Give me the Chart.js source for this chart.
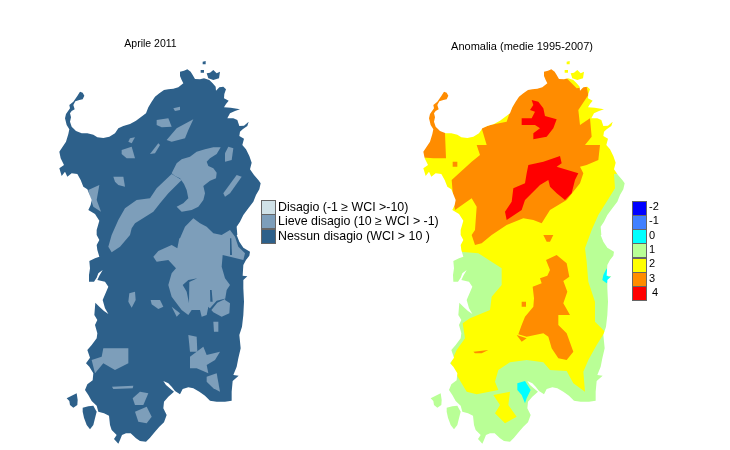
<!DOCTYPE html>
<html>
<head>
<meta charset="utf-8">
<script src="https://cdn.jsdelivr.net/npm/chart.js@4/dist/chart.umd.js"></script>
<style>
  html, body { margin: 0; background: #fff; }
  #wrap { position: relative; width: 730px; height: 450px; overflow: hidden; font-family: "Liberation Sans", Arial, sans-serif; color: #000; }
  canvas { position: absolute; left: 0; top: 0; }
  .t { position: absolute; white-space: nowrap; }
  .sw { position: absolute; box-sizing: border-box; border: 1px solid #666; }
</style>
</head>
<body>
<div id="wrap"><canvas id="map" width="730" height="450"></canvas></div>
<script>
// Outlines are in map grid units (a third of a pixel). South sheets start 615 units lower.
const titles = ["Aprile 2011", "Anomalia (medie 1995-2007)"];
const wciLabels = ["Disagio (-1 ≥ WCI >-10)", "Lieve disagio (10 ≥ WCI > -1)", "Nessun disagio (WCI > 10 )"];
const wciColors = ["#d0e2e8", "#7d9eba", "#2d608a"];
const anomalyLabels = ["-2", "-1", "0", "1", "2", "3", "4"];
const anomalyColors = ["#0000ff", "#4080ff", "#00ffff", "#b9ff96", "#ffff00", "#ff8c00", "#ff0000"];

const coastNorth = [[120,185],[128,188],[133,197],[128,208],[118,210],[106,214],[100,225],[104,238],[95,243],[90,250],[93,262],[90,275],[95,290],[108,303],[125,310],[142,310],[160,314],[172,322],[190,324],[208,320],[225,310],[235,295],[250,288],[270,282],[288,272],[302,262],[318,250],[325,232],[335,215],[345,200],[358,190],[372,180],[385,178],[400,176],[415,172],[430,160],[425,150],[420,138],[420,125],[432,122],[442,118],[452,125],[458,135],[465,147],[480,148],[492,145],[508,150],[518,160],[527,170],[528,182],[538,172],[550,170],[558,178],[553,192],[552,205],[566,212],[558,222],[552,232],[572,233],[600,238],[585,243],[570,250],[562,265],[580,265],[592,270],[598,288],[612,287],[626,275],[622,288],[608,298],[600,305],[598,318],[612,326],[607,345],[618,358],[628,378],[635,398],[630,418],[642,435],[655,450],[662,460],[658,478],[648,495],[640,515],[625,535],[610,555],[600,575],[590,590],[592,615]];
const coastSouth = [[590,0],[598,20],[610,38],[630,50],[628,62],[618,75],[610,90],[608,122],[622,124],[610,135],[610,160],[612,200],[610,240],[606,275],[598,300],[602,340],[595,370],[590,395],[580,420],[596,422],[578,438],[575,470],[575,497],[555,500],[530,500],[510,497],[495,482],[478,470],[460,460],[445,457],[428,462],[420,478],[405,468],[395,455],[385,445],[370,438],[378,450],[392,462],[402,470],[385,485],[372,500],[370,520],[380,540],[372,562],[358,575],[345,590],[330,608],[318,620],[300,618],[288,610],[272,595],[258,595],[246,600],[240,615],[235,626],[222,612],[230,600],[215,585],[210,570],[207,542],[192,535],[175,530],[170,512],[155,498],[145,480],[135,465],[142,448],[158,436],[160,415],[148,395],[138,385],[150,368],[142,345],[155,330],[170,310],[172,295],[165,270],[172,255],[163,240],[166,203],[178,215],[192,228],[205,237],[195,220],[188,195],[205,155],[195,140],[172,135],[178,122],[188,105],[175,115],[170,128],[162,140],[148,140],[147,120],[150,100],[148,78],[165,70],[178,65],[172,45],[170,30],[178,15],[170,0]];
const coastWest = [[170,600],[178,572],[165,552],[145,540],[152,525],[155,510],[142,478],[130,470],[122,450],[112,432],[95,430],[82,440],[75,425],[65,438],[58,415],[72,405],[62,385],[58,365],[68,350],[78,335],[85,312],[88,298],[80,285],[75,265],[78,252],[90,235],[88,225],[100,215],[112,198]];
const sanPietro = [[80,490],[95,482],[110,475],[113,495],[112,510],[100,518],[90,510],[88,498]];
const santAntioco = [[128,518],[145,514],[160,512],[170,530],[165,550],[160,570],[150,583],[140,570],[132,548],[128,530]];
const maddalena = [[500,130],[510,128],[520,120],[530,130],[540,125],[537,145],[520,150],[505,145]];
const budelli = [[488,95],[497,93],[497,103],[488,103]];
const spargi = [[482,120],[492,120],[492,128],[482,128]];

const mildCentre = [[410,400],[425,388],[450,380],[470,365],[495,358],[520,352],[542,352],[530,372],[510,385],[500,395],[505,408],[520,415],[530,428],[528,445],[510,452],[490,468],[495,490],[490,510],[475,530],[455,540],[425,545],[410,530],[430,520],[445,505],[440,480],[432,462],[420,445],[405,438],[395,430]];
const mildBand = [[395,432],[350,475],[330,505],[290,510],[255,535],[235,570],[215,615],[205,650],[215,667],[240,650],[270,615],[275,595],[285,580],[340,545],[360,520],[385,490],[425,450]];
const mildSouth = [[420,625],[435,590],[460,565],[480,580],[500,590],[520,610],[545,615],[570,600],[585,620],[595,650],[615,670],[610,690],[570,680],[548,675],[545,710],[555,745],[570,765],[560,780],[555,810],[570,820],[568,850],[545,860],[520,847],[505,830],[500,855],[485,860],[480,840],[455,840],[445,855],[425,840],[395,800],[385,765],[395,730],[408,715],[385,690],[350,695],[340,680],[355,663],[395,645],[412,655],[418,625]];
const mildPatches = [
  [[350,270],[385,265],[395,290],[365,292],[350,285]],
  [[380,330],[410,295],[460,268],[445,300],[435,325],[395,335]],
  [[330,372],[355,340],[360,345],[345,370]],
  [[245,360],[275,350],[285,385],[260,385],[245,372]],
  [[565,350],[580,355],[575,390],[555,395],[555,370]],
  [[550,490],[590,435],[605,440],[570,490],[555,500]],
  [[145,480],[178,465],[170,510],[183,545],[160,530],[150,500]],
  [[220,440],[250,440],[255,470],[235,465],[225,455]],
  [[400,235],[420,230],[420,240],[405,243]],
  [[270,325],[285,322],[275,340],[265,335]],
  [[268,790],[285,785],[287,810],[275,833],[265,815]],
  [[332,810],[360,810],[370,830],[355,837],[335,823]],
  [[445,915],[470,920],[472,965],[450,965]],
  [[450,980],[490,950],[500,975],[540,965],[525,990],[500,1005],[505,1030],[470,1015],[450,1015]],
  [[500,1040],[530,1030],[540,1085],[520,1075],[500,1055]],
  [[190,955],[215,955],[265,955],[265,1000],[225,1020],[190,1000],[165,1030],[155,990],[185,980]],
  [[216,1070],[280,1067],[278,1075],[220,1077]],
  [[278,1105],[300,1085],[325,1090],[310,1125],[285,1125]],
  [[285,1145],[320,1130],[335,1160],[320,1180],[295,1175]],
  [[520,875],[535,875],[535,905],[522,905]],
  [[395,830],[420,850],[410,860]],
];
const darkStreaks = [
  [[428,765],[445,750],[472,745],[448,756],[447,820],[440,785]],
  [[510,780],[515,780],[518,815],[511,815]],
  [[505,840],[530,812],[560,805],[532,818],[510,845]],
  [[570,625],[574,625],[576,675],[570,675]],
];

const warm = [[0,0],[700,0],[700,425],[612,432],[615,475],[590,515],[565,555],[545,600],[525,655],[530,695],[535,755],[555,815],[555,875],[585,905],[560,945],[535,990],[520,1025],[525,1085],[490,1060],[470,1023],[420,1020],[400,997],[350,990],[300,997],[265,1020],[255,1055],[265,1080],[200,1093],[170,1085],[140,1035],[122,1000],[140,960],[165,925],[158,880],[180,865],[240,840],[245,800],[275,765],[275,715],[205,670],[150,665],[0,665]];
const warmSouth = [[250,1095],[300,1085],[295,1125],[320,1160],[285,1180],[255,1150],[270,1125]];
const hotPeninsula = [[0,100],[150,100],[150,280],[105,310],[108,385],[70,385],[30,382],[0,360]];
const hotNorth = [[330,100],[440,100],[470,145],[500,175],[530,170],[535,195],[505,240],[510,285],[540,265],[545,320],[525,345],[570,345],[565,390],[530,405],[510,410],[520,430],[510,460],[470,510],[420,540],[395,580],[370,570],[340,565],[290,585],[245,615],[215,640],[195,645],[185,615],[195,600],[200,530],[185,505],[135,540],[130,510],[125,450],[185,395],[210,375],[200,345],[230,345],[215,295],[240,285],[290,275],[300,245],[315,215]];
const hotSouth = [[345,860],[370,830],[372,805],[368,770],[395,760],[390,745],[412,737],[420,720],[408,690],[440,675],[470,700],[478,740],[460,753],[472,785],[460,820],[480,855],[445,855],[445,885],[470,910],[490,965],[470,990],[445,985],[425,955],[415,920],[400,910],[375,915],[350,920],[325,913],[335,885]];
const hotSpots = [
  [[335,815],[348,815],[348,830],[335,830]],
  [[190,965],[235,960],[215,970],[195,970]],
  [[400,615],[430,615],[420,635],[410,635]],
  [[128,395],[142,395],[142,410],[128,410]],
  [[320,915],[350,925],[335,935]],
];
const severeMain = [[355,405],[400,395],[450,378],[455,400],[440,410],[505,430],[495,450],[485,490],[465,510],[440,490],[420,470],[415,450],[390,465],[345,510],[335,540],[290,570],[285,545],[305,515],[310,475],[345,460],[350,430]];
const severeNorth = [[365,210],[385,215],[400,235],[405,258],[440,268],[430,295],[410,320],[370,328],[370,310],[390,295],[375,285],[335,285],[335,265],[365,265],[375,245],[360,240],[370,225]];
const coolLagoon = [[322,1060],[345,1053],[362,1080],[350,1105],[345,1120],[335,1095],[322,1080]];
const coolEast = [[580,735],[590,715],[595,740],[605,740],[590,760],[577,750]];

const coast = [...coastNorth, ...coastSouth.map(([x, y]) => [x, y + 615]), ...coastWest];
const land = [coast, sanPietro.map(([x, y]) => [x, y + 615]), santAntioco.map(([x, y]) => [x, y + 615]), maddalena, budelli, spargi];

const LEFT = 0, COAST_RIGHT = 1092, RIGHT = 1110;

function layer(points, color, dx) {
  return {
    data: points.map(([x, y]) => ({ x: x + dx, y })),
    backgroundColor: color, borderWidth: 0, fill: "shape", showLine: true,
    pointRadius: 0, tension: 0, spanGaps: true,
  };
}

// The land shapes go first; everything after them only paints on top of land,
// so the rating layers can run past the coast into the sea.
const bases = [
  ...land.map((p) => layer(p, wciColors[2], LEFT)),
  ...land.map((p) => layer(p, anomalyColors[3], COAST_RIGHT)),
];
const overlays = [
  layer(mildCentre, wciColors[1], LEFT),
  layer(mildBand, wciColors[1], LEFT),
  layer(mildSouth, wciColors[1], LEFT),
  ...mildPatches.map((p) => layer(p, wciColors[1], LEFT)),
  ...darkStreaks.map((p) => layer(p, wciColors[2], LEFT)),
  layer(warm, anomalyColors[4], RIGHT),
  layer(warmSouth, anomalyColors[4], RIGHT),
  layer(hotPeninsula, anomalyColors[5], RIGHT),
  layer(hotNorth, anomalyColors[5], RIGHT),
  layer(hotSouth, anomalyColors[5], RIGHT),
  ...hotSpots.map((p) => layer(p, anomalyColors[5], RIGHT)),
  layer(severeMain, anomalyColors[6], RIGHT),
  layer(severeNorth, anomalyColors[6], RIGHT),
  layer(coolLagoon, anomalyColors[2], RIGHT),
  layer(coolEast, anomalyColors[2], RIGHT),
];

// Chart.js paints the first dataset last, hence the reverse below.
const paintOrder = [...bases, ...overlays];
const lastBaseIndex = overlays.length;

const landMask = {
  id: "landMask",
  afterDatasetDraw(chart, args) {
    if (args.index === lastBaseIndex) chart.ctx.globalCompositeOperation = "source-atop";
  },
  afterDatasetsDraw(chart) {
    chart.ctx.globalCompositeOperation = "source-over";
  },
};

new Chart(document.getElementById("map"), {
  type: "scatter",
  data: { datasets: paintOrder.slice().reverse() },
  options: {
    responsive: false,
    animation: false,
    layout: { padding: 0 },
    plugins: { legend: { display: false }, tooltip: { enabled: false } },
    scales: {
      x: { type: "linear", display: false, min: -120, max: 2070 },
      y: { type: "linear", display: false, reverse: true, min: -90, max: 1260 },
    },
  },
  plugins: [landMask],
});

const wrap = document.getElementById("wrap");
function addText(text, left, top, size, center) {
  const el = document.createElement("div");
  el.className = "t";
  el.textContent = text;
  el.style.cssText = `left:${left}px;top:${top}px;font-size:${size}px;line-height:${size + 2}px;` +
    (center ? "transform:translateX(-50%);" : "");
  wrap.appendChild(el);
}
function addSwatch(color, left, top, w, h) {
  const el = document.createElement("div");
  el.className = "sw";
  el.style.cssText = `left:${left}px;top:${top}px;width:${w}px;height:${h}px;background:${color};`;
  wrap.appendChild(el);
}

addText(titles[0], 150.5, 37, 10.5, true);
addText(titles[1], 522, 40, 11, true);

wciLabels.forEach((label, i) => {
  addSwatch(wciColors[i], 261, 200 + i * 14.3, 15, 15);
  addText(label, 278, 199.5 + i * 14.6, 12.4, false);
});
anomalyLabels.forEach((label, i) => {
  addSwatch(anomalyColors[i], 632, 200.5 + i * 14.33, 15, 15);
  addText(label, label === "4" ? 652 : 649, 200 + i * 14.33, 11, false);
});
</script>
</body>
</html>
